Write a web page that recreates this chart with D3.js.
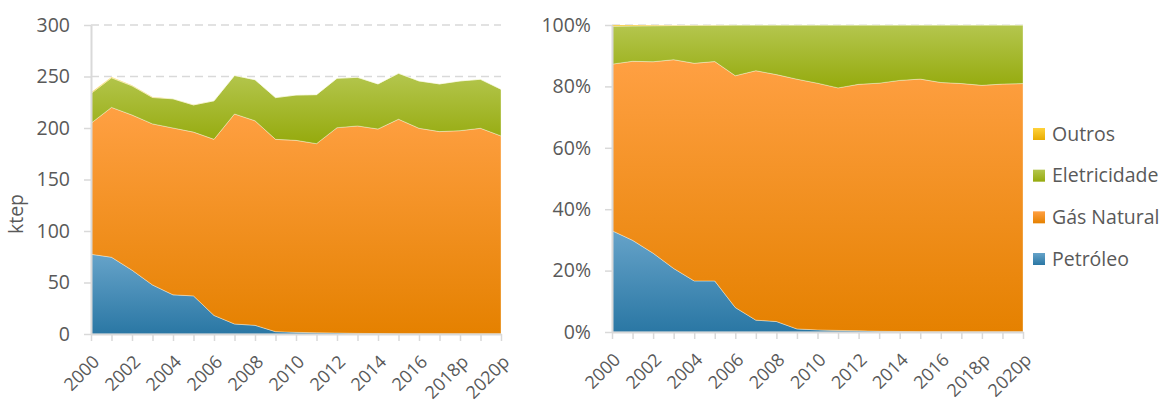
<!DOCTYPE html>
<html>
<head>
<meta charset="utf-8">
<script src="https://d3js.org/d3.v7.min.js"></script>
<style>
  body { margin: 0; background: #fff; }
  text { font-family: "Open Sans", sans-serif; fill: #595959; }
</style>
</head>
<body>
<div id="chart"></div>
<script>
// data (ktep)
var years = ["2000","2001","2002","2003","2004","2005","2006","2007","2008","2009","2010",
             "2011","2012","2013","2014","2015","2016","2017","2018p","2019p","2020p"];
var petroleo = [77.4, 74.5, 62, 47.6, 38, 37, 18, 9.7, 8.4, 2.3, 1.6, 1.2, 1.0, 0.6, 0.4, 0.3, 0.3, 0.2, 0.2, 0.2, 0.2];
var gasNatural = [127.2, 145.5, 150.6, 156.4, 162, 159, 171, 203.9, 198.6, 186.7, 186.4, 183.6, 199.3, 201.4, 198.6, 208.2, 199.4, 196.3, 197.2, 199.5, 192.1];
var eletricidade = [28.9, 28.7, 28.3, 25.6, 28.3, 26.4, 37.4, 37.4, 39.9, 40.5, 44, 47.6, 48, 47.2, 43.8, 44.6, 46, 46.3, 48.3, 47.6, 45.3];
var outros = [1.0, 0.8, 0.6, 0.4, 0.2, 0.1, 0, 0, 0, 0, 0, 0, 0, 0, 0, 0, 0, 0, 0, 0, 0];
var series = ["Petróleo", "Gás Natural", "Eletricidade", "Outros"];
var leftTicks = [0, 50, 100, 150, 200, 250, 300];
var rightTicks = [0, 0.2, 0.4, 0.6, 0.8, 1];

var width = 1167, height = 406;
var fontSize = "19.5px";

var data = years.map(function(y, i) {
  return { year: y, "Petróleo": petroleo[i], "Gás Natural": gasNatural[i],
           "Eletricidade": eletricidade[i], "Outros": outros[i] };
});

var svg = d3.select("#chart").append("svg")
    .attr("width", width)
    .attr("height", height);

// gradient fills, lighter on top like the excel look
var grads = {
  "Petróleo": ["#66a3c9", "#2a77a4"],
  "Gás Natural": ["#ffa043", "#e58100"],
  "Eletricidade": ["#b4c64e", "#95aa0d"],
  "Outros": ["#ffd23a", "#e9ac00"]
};
var defs = svg.append("defs");
series.forEach(function(s, i) {
  var g = defs.append("linearGradient")
      .attr("id", "grad" + i)
      .attr("x1", 0).attr("y1", 0).attr("x2", 0).attr("y2", 1);
  g.append("stop").attr("offset", "0%").attr("stop-color", grads[s][0]);
  g.append("stop").attr("offset", "100%").attr("stop-color", grads[s][1]);
});

function drawChart(opts) {
  var x = d3.scalePoint().domain(years).range([opts.x0, opts.x1]);
  var y = d3.scaleLinear().domain(opts.domain).range([opts.y0, opts.y1]);

  var stack = d3.stack().keys(series).offset(opts.offset);
  var layers = stack(data);

  var g = svg.append("g");

  // gridlines
  g.selectAll(".grid")
      .data(opts.ticks.slice(1))
    .enter().append("line")
      .attr("x1", opts.x0).attr("x2", opts.x1)
      .attr("y1", function(d) { return y(d); })
      .attr("y2", function(d) { return y(d); })
      .attr("stroke", "#d9d9d9")
      .attr("stroke-width", 1.5)
      .attr("stroke-dasharray", "8,5");

  var area = d3.area()
      .x(function(d) { return x(d.data.year); })
      .y0(function(d) { return y(d[0]); })
      .y1(function(d) { return y(d[1]); });

  g.selectAll(".layer")
      .data(layers)
    .enter().append("path")
      .attr("d", area)
      .attr("fill", function(d, i) { return "url(#grad" + i + ")"; })
      .attr("stroke", "rgba(255,255,240,0.45)")
      .attr("stroke-width", 0.8);

  // y axis
  var yAxis = d3.axisLeft(y)
      .tickValues(opts.ticks)
      .tickSize(7)
      .tickSizeOuter(0)
      .tickFormat(opts.format);
  var ya = g.append("g")
      .attr("transform", "translate(" + opts.x0 + ",0)")
      .call(yAxis);
  ya.select(".domain").attr("stroke", "#d9d9d9").attr("stroke-width", 2);
  ya.selectAll(".tick line").attr("stroke", "#d9d9d9").attr("stroke-width", 1.5);
  ya.selectAll(".tick text")
      .attr("x", -21)
      .style("font-size", fontSize)
      .style("fill", "#595959");

  // x axis
  var xAxis = d3.axisBottom(x)
      .tickSize(7)
      .tickSizeOuter(0)
      .tickFormat(function(d, i) { return i % 2 == 0 ? d : ""; });
  var xa = g.append("g")
      .attr("transform", "translate(0," + opts.y0 + ")")
      .call(xAxis);
  xa.select(".domain").attr("stroke", "#d9d9d9").attr("stroke-width", 2);
  xa.selectAll(".tick line").attr("stroke", "#d9d9d9").attr("stroke-width", 1.5);
  xa.selectAll(".tick text")
      .attr("y", 0)
      .attr("dy", 0)
      .attr("text-anchor", "end")
      .attr("transform", "translate(9,29) rotate(-45)")
      .style("font-size", "18px")
      .style("fill", "#595959");

  svg.selectAll(".domain").attr("fill", "none");
}

drawChart({ x0: 91, x1: 501, y0: 334, y1: 25, domain: [0, 300], ticks: leftTicks,
            offset: d3.stackOffsetNone, format: d3.format("d") });
drawChart({ x0: 612, x1: 1023, y0: 332, y1: 25, domain: [0, 1], ticks: rightTicks,
            offset: d3.stackOffsetExpand, format: d3.format(".0%") });

// y label
svg.append("text")
    .attr("transform", "translate(23,214) rotate(-90)")
    .attr("text-anchor", "middle")
    .style("font-size", fontSize)
    .text("ktep");

// legend, top entry is Outros
var legend = svg.append("g").attr("transform", "translate(1033,0)");
var legendItems = series.slice().reverse();
var ly = d3.scalePoint().domain(legendItems).range([134, 259]);
legendItems.forEach(function(s) {
  var idx = series.indexOf(s);
  legend.append("rect")
      .attr("x", 0)
      .attr("y", ly(s) - 6)
      .attr("width", 12)
      .attr("height", 12)
      .attr("fill", "url(#grad" + idx + ")");
  legend.append("text")
      .attr("x", 19)
      .attr("y", ly(s))
      .attr("dy", "0.35em")
      .style("font-size", fontSize)
      .text(s);
});
</script>
</body>
</html>
